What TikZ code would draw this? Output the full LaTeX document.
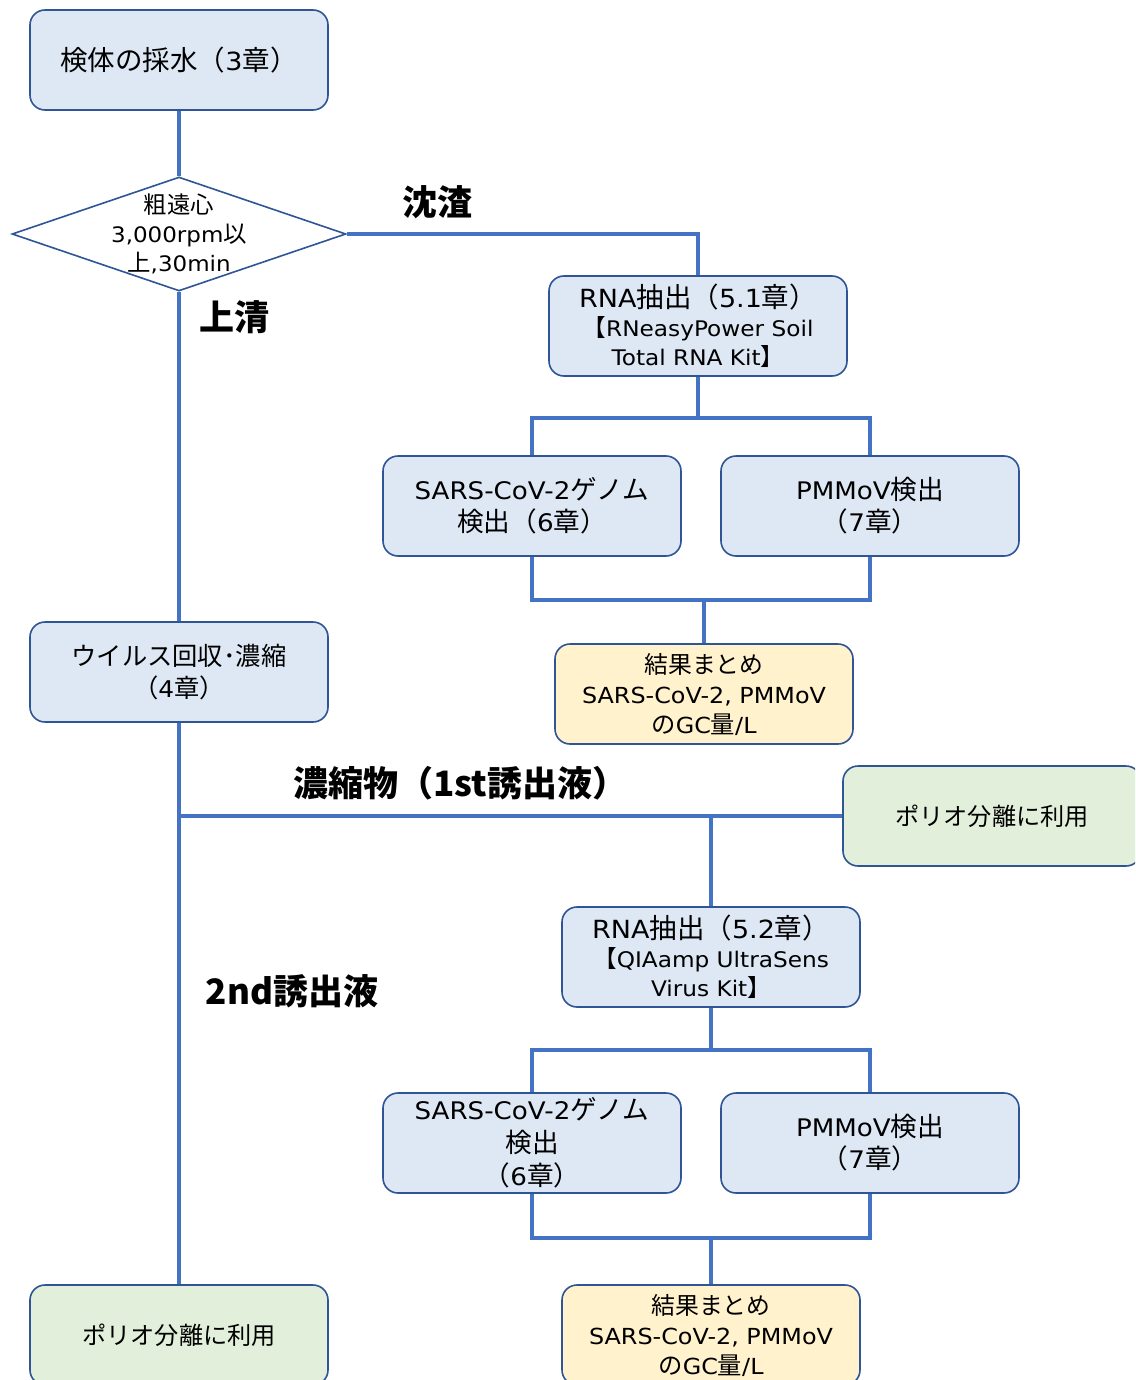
\documentclass[tikz,border=0pt]{standalone}
\usepackage{fontspec}
% Latin text in a wide sans, Japanese text in Noto Sans CJK JP
\setmainfont{DejaVu Sans}[FakeStretch=1.08]
\newfontfamily\jpfam{Noto Sans CJK JP}[Scale=1.1]
\newfontfamily\jptag{Noto Sans CJK JP}
% switch fonts automatically between Latin and CJK characters
\XeTeXinterchartokenstate=1
\newXeTeXintercharclass\jpclass
\makeatletter
\count@="3000
\loop \XeTeXcharclass\count@=\jpclass \advance\count@ 1 \ifnum\count@<"A000 \repeat
\count@="FF00
\loop \XeTeXcharclass\count@=\jpclass \advance\count@ 1 \ifnum\count@<"FFF0 \repeat
\makeatother
\XeTeXinterchartoks 0 \jpclass = {\jpfam}
\XeTeXinterchartoks 4095 \jpclass = {\jpfam}
\XeTeXinterchartoks \jpclass 0 = {\rmfamily}
\XeTeXinterchartoks 4095 0 = {\rmfamily}
% bold branch labels: a single CJK font, no switching
\newcommand\branchfont{\XeTeXinterchartokenstate=0\relax\jptag\bfseries\fontsize{35}{40}\selectfont}
\usetikzlibrary{shapes.geometric}
\definecolor{boxfill}{HTML}{DEE8F5}
\definecolor{sumfill}{HTML}{FFF2CC}
\definecolor{usefill}{HTML}{E2EFDA}
\definecolor{boxline}{HTML}{2F5597}
\definecolor{linkblue}{HTML}{4472C4}
\begin{document}
\begin{tikzpicture}[x=1pt,y=-1pt,
  box/.style={draw=boxline, line width=1.6pt, rounded corners=15pt,
    minimum width=298pt, minimum height=100pt, fill=boxfill,
    align=center, inner sep=0pt, font=\fontsize{24.2}{32}\selectfont},
  sumbox/.style={box, fill=sumfill, font=\fontsize{22.1}{30}\selectfont},
  usebox/.style={box, fill=usefill, font=\fontsize{22}{30}\selectfont},
  link/.style={draw=linkblue, line width=4.5pt},
  tag/.style={font=\branchfont}]
\useasboundingbox (0,0) rectangle (1135,1380);
\clip (0,0) rectangle (1135,1380);
\fill[white] (0,0) rectangle (1135,1380);

% --- sampling and coarse centrifugation
\node[box, font=\fontsize{25}{30}\selectfont] (b1) at (179,60) {検体の採水（3章）};
\node[diamond, draw=boxline, line width=1.6pt, fill=white, inner sep=0pt,
      minimum width=334pt, minimum height=114pt, shape aspect=2.93] (dec) at (179,234) {};
\node[align=center, font=\fontsize{21.3}{29}\selectfont] (dect) at (179,234)
  {粗遠心\\3,000rpm以\\上,30min};

% --- sediment branch
\node[box, font=\fontsize{21.5}{29}\selectfont] (rna1) at (698,326)
  {{\fontsize{25}{29}\selectfont RNA抽出（5.1章）}\\【RNeasyPower Soil\\Total RNA Kit】};
\node[box] (sars1) at (532,506) {SARS-CoV-2ゲノム\\検出（6章）};
\node[box] (pm1) at (870,506) {PMMoV検出\\（7章）};
\node[sumbox] (res1) at (704,694)
  {{\fontsize{21.7}{30}\selectfont 結果まとめ}\\SARS-CoV-2, PMMoV\\のGC量/L};

% --- supernatant branch
\node[box, font=\fontsize{23}{32}\selectfont] (virus) at (179,672) {ウイルス回収･濃縮\\（4章）};
\node[usebox] (polioR) at (992,816) {ポリオ分離に利用};
\node[box, font=\fontsize{21.5}{29}\selectfont] (rna2) at (711,957)
  {{\fontsize{25}{29}\selectfont RNA抽出（5.2章）}\\【QIAamp UltraSens\\Virus Kit】};
\node[box, font=\fontsize{24.2}{33}\selectfont] (sars2) at (532,1143) {SARS-CoV-2ゲノム\\検出\\（6章）};
\node[box] (pm2) at (870,1143) {PMMoV検出\\（7章）};
\node[sumbox] (res2) at (711,1335)
  {{\fontsize{21.7}{30}\selectfont 結果まとめ}\\SARS-CoV-2, PMMoV\\のGC量/L};
\node[usebox] (polioL) at (179,1335) {ポリオ分離に利用};

% --- branch labels
\node[tag] (lsed) at (437,202) {沈渣};
\node[tag] (lsup) at (234,317) {上清};
\node[tag] (lcon) at (460,783) {濃縮物（1st誘出液）};
\node[tag] (l2nd) at (292,991) {2nd誘出液};

% --- junction points
\coordinate (s1) at (698,418);
\coordinate (m1) at (704,600);
\coordinate (c1) at (179,816);
\coordinate (c2) at (711,816);
\coordinate (s2) at (711,1050);
\coordinate (m2) at (711,1238);

% --- connectors
\draw[link] (b1.south) -- (dec.north);
\draw[link] (dec.east) -| (rna1.north);
\draw[link] (dec.south) -- (virus.north);
\draw[link] (rna1.south) -- (s1);
\draw[link] (sars1.north) |- (s1) -| (pm1.north);
\draw[link] (sars1.south) |- (m1) -| (pm1.south);
\draw[link] (m1) -- (res1.north);
\draw[link] (virus.south) -- (polioL.north);
\draw[link] (c1) -- (polioR.west);
\draw[link] (c2) -- (rna2.north);
\draw[link] (rna2.south) -- (s2);
\draw[link] (sars2.north) |- (s2) -| (pm2.north);
\draw[link] (sars2.south) |- (m2) -| (pm2.south);
\draw[link] (m2) -- (res2.north);
\end{tikzpicture}
\end{document}
